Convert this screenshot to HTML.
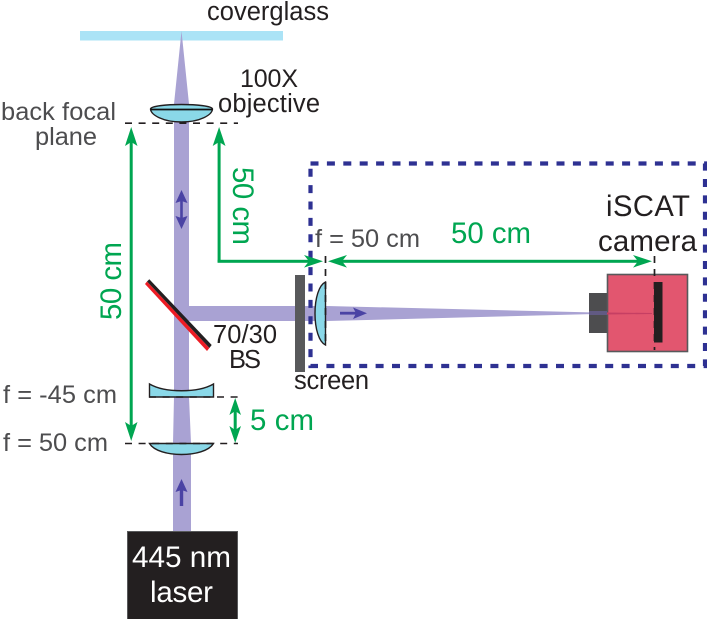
<!DOCTYPE html>
<html>
<head>
<meta charset="utf-8">
<style>
html,body{margin:0;padding:0;background:#fff;width:707px;height:619px;overflow:hidden}
svg{display:block}
text{font-family:"Liberation Sans",sans-serif}
</style>
</head>
<body>
<svg width="707" height="619" viewBox="0 0 707 619" xmlns="http://www.w3.org/2000/svg">
<!-- coverglass -->
<rect x="80" y="31" width="203" height="9.5" fill="#abe3f6"/>
<!-- beam -->
<path d="M181.5 31 L189 104 V306 H300 V321 H189 V397 L191 443 V532 H173 V443 L174 397 V104 Z" fill="#a9a2d3"/>
<path d="M300 306 H327 L595 312.5 V314 L327 321 H300 Z" fill="#a9a2d3"/>

<!-- dashed blue box -->
<rect x="310.5" y="163.5" width="394.5" height="202.5" fill="none" stroke="#2e3192" stroke-width="4.2" stroke-dasharray="8 8.4"/>

<!-- screen -->
<rect x="295" y="275" width="10" height="97" fill="#58595b"/>

<!-- camera -->
<rect x="589" y="293" width="19" height="40" fill="#4d4d4f"/>
<rect x="607.5" y="274.5" width="80" height="77" fill="#e2566f" stroke="#58595b" stroke-width="1.6"/>
<path d="M589 311 H607 V315 H589Z" fill="#6a5f9a" opacity=".7"/>
<path d="M607 312.5 L652 313 V314 L607 314.5 Z" fill="#c63f63"/>
<rect x="654" y="282" width="8.5" height="60.5" fill="#231f20"/>
<path d="M654.5 256 V350" stroke="#231f20" stroke-width="1.7" stroke-dasharray="7 6" fill="none"/>

<!-- objective -->
<path d="M150.5 109 C152 103 211 103 212.5 109 C212 115 200 122 181.5 122 C163 122 151 115 150.5 109 Z" fill="#8ad8e8" stroke="#231f20" stroke-width="1.4"/>
<path d="M150.5 109.5 H212.5" stroke="#111" stroke-width="1.8"/>
<path d="M125 123.2 H238" stroke="#231f20" stroke-width="1.6" stroke-dasharray="7 6.6" fill="none"/>

<!-- concave lens -->
<path d="M149.5 384 C165 393 198 393 213.5 384 V397 H149.5 Z" fill="#8ad8e8" stroke="#231f20" stroke-width="1.4"/>
<path d="M149 397 H238" stroke="#231f20" stroke-width="1.6" stroke-dasharray="7 6.6" fill="none"/>

<!-- lower lens -->
<path d="M149.5 443.5 H213.5 C209 451 195 454.5 181.5 454.5 C168 454.5 154 451 149.5 443.5 Z" fill="#8ad8e8" stroke="#231f20" stroke-width="1.4"/>
<path d="M125 443.5 H238" stroke="#231f20" stroke-width="1.6" stroke-dasharray="7 6.6" fill="none"/>

<!-- right lens -->
<path d="M325.5 282 C319 285 315 298 315 313.5 C315 329 319 342 325.5 345 Z" fill="#8ad8e8" stroke="#231f20" stroke-width="1.4"/>
<path d="M325.5 256 V346" stroke="#231f20" stroke-width="1.7" stroke-dasharray="7 6" fill="none"/>

<!-- beam splitter -->
<path d="M145 284 L207 351 L209.4 348 L147 281.5 Z" fill="#ed1c24"/>
<path d="M149.3 279.3 L211.7 345 L209.4 348 L147 281.5 Z" fill="#231f20"/>

<!-- green arrows -->
<g fill="#00a651" stroke="none">
<rect x="129.7" y="140" width="3" height="290"/>
<path d="M131.2 127 L137.5 146 L131.2 142 L125 146 Z"/>
<path d="M131.2 441 L137.5 422 L131.2 426 L125 422 Z"/>

<rect x="217.6" y="140" width="3" height="122.5"/>
<rect x="217.6" y="259.8" width="98" height="3"/>
<path d="M219.1 127 L225.5 146 L219.1 142 L212.7 146 Z"/>
<path d="M323 261.3 L304 255 L309 261.3 L304 267.6 Z"/>

<rect x="336" y="259.8" width="308" height="3"/>
<path d="M328 261.3 L347 255 L342 261.3 L347 267.6 Z"/>
<path d="M652 261.3 L633 255 L638 261.3 L633 267.6 Z"/>

<rect x="233.7" y="406" width="3" height="30"/>
<path d="M235.2 398 L241 415 L235.2 411 L229.4 415 Z"/>
<path d="M235.2 443 L241 426 L235.2 430 L229.4 426 Z"/>
</g>

<!-- purple arrows -->
<g fill="#4a43a4">
<rect x="180.2" y="196" width="2.6" height="26"/>
<path d="M181.5 190 L187.5 203 L181.5 201 L175.5 203 Z"/>
<path d="M181.5 229 L187.5 216 L181.5 218 L175.5 216 Z"/>
<rect x="179.8" y="487" width="3.4" height="19"/>
<path d="M181.5 479 L187.5 492 L181.5 490 L175.5 492 Z"/>
<rect x="340" y="311.8" width="18" height="2.8"/>
<path d="M367 313.2 L353 307.5 L356 313.2 L353 319 Z"/>
</g>

<!-- laser -->
<rect x="127.5" y="531.5" width="110" height="88" fill="#231f20" stroke="#58595b" stroke-width="1"/>
<text x="132" y="567" font-size="29.7" fill="#fff" textLength="99">445 nm</text>
<text x="150" y="602" font-size="29.5" fill="#fff" textLength="63">laser</text>

<!-- labels -->
<g fill="#231f20" font-size="25.5">
<text x="207" y="20" textLength="122">coverglass</text>
<text x="240" y="87" font-size="25" textLength="58">100X</text>
<text x="218" y="112" textLength="102">objective</text>
<text x="213" y="343" textLength="64">70/30</text>
<text x="229" y="368" textLength="32">BS</text>
<text x="294" y="389" textLength="75">screen</text>
<text x="606" y="216" font-size="29.2" textLength="84">iSCAT</text>
<text x="598" y="251" font-size="29.5" textLength="99">camera</text>
</g>
<g fill="#4d4d4f" font-size="25.4">
<text x="1" y="120" textLength="115">back focal</text>
<text x="35" y="145" textLength="62">plane</text>
<text x="315" y="247" textLength="105">f = 50 cm</text>
<text x="3" y="403" textLength="114">f = -45 cm</text>
<text x="3" y="451" textLength="105">f = 50 cm</text>
</g>
<g fill="#00a651" font-size="29.4">
<text x="451" y="243" textLength="80">50 cm</text>
<text x="250" y="430" textLength="64">5 cm</text>
<text transform="translate(121 320) rotate(-90)" textLength="78">50 cm</text>
<text transform="translate(233 167) rotate(90)" textLength="78">50 cm</text>
</g>
</svg>
</body>
</html>
